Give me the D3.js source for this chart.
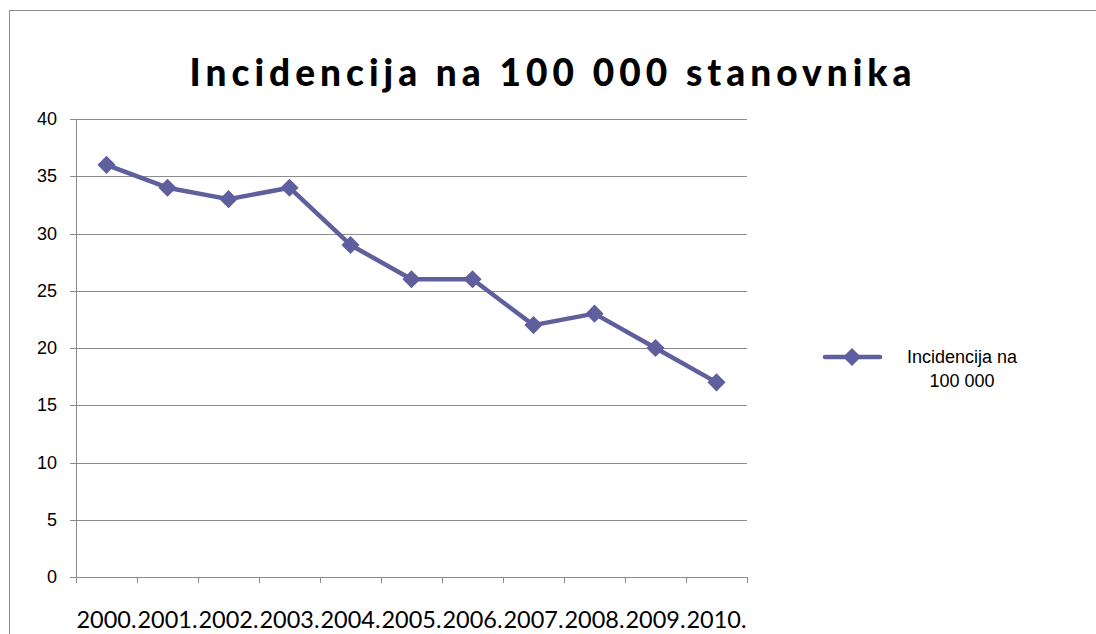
<!DOCTYPE html>
<html>
<head>
<meta charset="utf-8">
<script src="https://cdn.jsdelivr.net/npm/d3@7"></script>
<style>
  body { margin: 0; background: #fff; }
</style>
</head>
<body>
<div id="chart"></div>
<script>
// data
var years = ["2000.", "2001.", "2002.", "2003.", "2004.", "2005.", "2006.", "2007.", "2008.", "2009.", "2010."];
var values = [36, 34, 33, 34, 29, 26, 26, 22, 23, 20, 17];
var yTicks = [0, 5, 10, 15, 20, 25, 30, 35, 40];
var seriesName = ["Incidencija na", "100 000"];
var title = "Incidencija na 100 000 stanovnika";

var W = 1096, H = 634;
var color = "#5f5f9d";

var svg = d3.select("#chart").append("svg")
    .attr("width", W)
    .attr("height", H);

// chart border
svg.append("rect")
    .attr("x", 9.5).attr("y", 10.5)
    .attr("width", W).attr("height", H)
    .attr("fill", "none")
    .attr("stroke", "#8c8c8c")
    .attr("stroke-width", 1);

// title
svg.append("text")
    .attr("x", 553).attr("y", 86)
    .attr("text-anchor", "middle")
    .style("font-family", "Lato, 'Open Sans', sans-serif")
    .style("font-weight", "900")
    .style("font-size", "37px")
    .style("letter-spacing", "5px")
    .text(title);

// scales
var plotL = 76, plotR = 747, plotT = 119, plotB = 577;
var x = d3.scaleBand().domain(years).range([plotL, plotR]);
var y = d3.scaleLinear().domain([0, 40]).range([plotB, plotT]);

// gridlines
svg.append("g").selectAll("line")
    .data(yTicks)
    .enter().append("line")
    .attr("x1", plotL - 6).attr("x2", plotR)
    .attr("y1", function (d) { return Math.round(y(d)) + 0.5; })
    .attr("y2", function (d) { return Math.round(y(d)) + 0.5; })
    .attr("stroke", "#8c8c8c");

// y axis line
svg.append("line")
    .attr("x1", plotL + 0.5).attr("x2", plotL + 0.5)
    .attr("y1", plotT).attr("y2", plotB)
    .attr("stroke", "#8c8c8c");

// x tick marks
var tickPos = years.map(function (d) { return x(d); }).concat([plotR]);
svg.append("g").selectAll("line")
    .data(tickPos)
    .enter().append("line")
    .attr("x1", function (d) { return Math.round(d) + 0.5; })
    .attr("x2", function (d) { return Math.round(d) + 0.5; })
    .attr("y1", plotB).attr("y2", plotB + 6)
    .attr("stroke", "#8c8c8c");

// y labels
svg.append("g").selectAll("text")
    .data(yTicks)
    .enter().append("text")
    .attr("x", 57)
    .attr("y", function (d) { return y(d) + 6; })
    .attr("text-anchor", "end")
    .style("font-family", "'Liberation Sans', Arial, sans-serif")
    .style("font-size", "18px")
    .text(function (d) { return d; });

// x labels
svg.append("g").selectAll("text")
    .data(years)
    .enter().append("text")
    .attr("x", function (d) { return x(d) + x.bandwidth() / 2; })
    .attr("y", 628)
    .attr("text-anchor", "middle")
    .attr("textLength", x.bandwidth() - 1)
    .attr("lengthAdjust", "spacingAndGlyphs")
    .style("font-family", "Lato, 'Open Sans', sans-serif")
    .style("font-size", "23px")
    .text(function (d) { return d; });

// line
var line = d3.line()
    .x(function (d, i) { return x(years[i]) + x.bandwidth() / 2; })
    .y(function (d) { return y(d); });

svg.append("path")
    .datum(values)
    .attr("d", line)
    .attr("fill", "none")
    .attr("stroke", color)
    .attr("stroke-width", 4.5)
    .attr("stroke-linejoin", "round");

var diamond = d3.symbol().type(d3.symbolDiamond2).size(210);

svg.append("g").selectAll("path")
    .data(values)
    .enter().append("path")
    .attr("d", diamond)
    .attr("transform", function (d, i) {
        return "translate(" + (x(years[i]) + x.bandwidth() / 2) + "," + y(d) + ")";
    })
    .attr("fill", color);

// legend
svg.append("line")
    .attr("x1", 825).attr("x2", 880)
    .attr("y1", 357).attr("y2", 357)
    .attr("stroke", color)
    .attr("stroke-width", 4.5)
    .attr("stroke-linecap", "round");
svg.append("path")
    .attr("d", diamond)
    .attr("transform", "translate(852,357)")
    .attr("fill", color);

svg.append("g").selectAll("text")
    .data(seriesName)
    .enter().append("text")
    .attr("x", 962)
    .attr("y", function (d, i) { return 363 + i * 24; })
    .attr("text-anchor", "middle")
    .style("font-family", "'Liberation Sans', Arial, sans-serif")
    .style("font-size", "18px")
    .text(function (d) { return d; });
</script>
</body>
</html>
